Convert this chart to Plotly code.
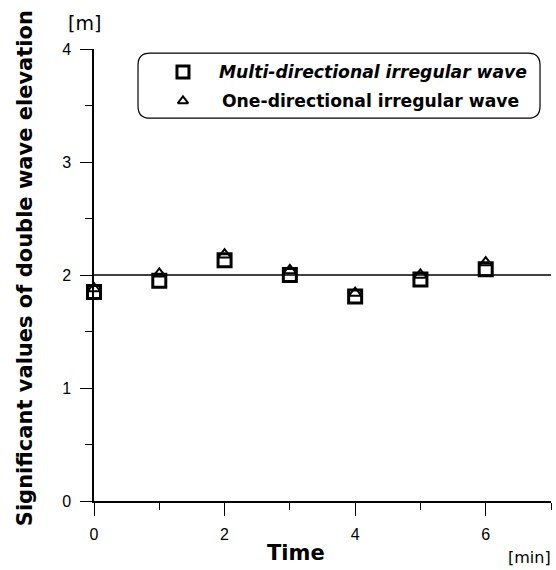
import plotly.graph_objects as go

time_min = [0, 1, 2, 3, 4, 5, 6]
multi_directional = [1.85, 1.95, 2.13, 2.00, 1.81, 1.96, 2.05]
one_directional = [1.88, 2.01, 2.18, 2.04, 1.84, 2.00, 2.11]
reference_level = 2.0
x_ticks = [0, 2, 4, 6]
y_ticks = [0, 1, 2, 3, 4]
legend_labels = ["Multi-directional irregular wave", "One-directional irregular wave"]

FONT = "Arial, Liberation Sans, Helvetica, sans-serif"
WIDE = "DejaVu Sans, Arial, sans-serif"

fig = go.Figure()

# reference line at 2 m
fig.add_trace(go.Scatter(x=[0, 7], y=[reference_level, reference_level], mode="lines",
                         line=dict(color="black", width=1.5), showlegend=False, hoverinfo="skip"))

fig.add_trace(go.Scatter(x=time_min, y=multi_directional, mode="markers", name=legend_labels[0],
                         marker=dict(symbol="square-open", size=13, color="black", line=dict(width=3, color="black")),
                         showlegend=False, cliponaxis=False))
fig.add_trace(go.Scatter(x=time_min, y=one_directional, mode="markers", name=legend_labels[1],
                         marker=dict(symbol="triangle-up-open", size=11, color="black", line=dict(width=2, color="black")),
                         showlegend=False, cliponaxis=False))

# legend markers on an overlay (paper-like) axis
fig.add_trace(go.Scatter(x=[0.1947], y=[0.949], mode="markers", xaxis="x2", yaxis="y2",
                         marker=dict(symbol="square-open", size=12, color="black", line=dict(width=3, color="black")),
                         showlegend=False, hoverinfo="skip", cliponaxis=False))
fig.add_trace(go.Scatter(x=[0.1947], y=[0.885], mode="markers", xaxis="x2", yaxis="y2",
                         marker=dict(symbol="triangle-up-open", size=9, color="black", line=dict(width=2, color="black")),
                         showlegend=False, hoverinfo="skip", cliponaxis=False))

# rounded legend box
x0, x1, y0, y1 = 0.0963, 0.976, 0.847, 0.991
rx, ry = 12 / 457, 12 / 452
path = (f"M {x0+rx},{y1} L {x1-rx},{y1} Q {x1},{y1} {x1},{y1-ry} L {x1},{y0+ry} "
        f"Q {x1},{y0} {x1-rx},{y0} L {x0+rx},{y0} Q {x0},{y0} {x0},{y0+ry} "
        f"L {x0},{y1-ry} Q {x0},{y1} {x0+rx},{y1} Z")
fig.add_shape(type="path", path=path, xref="paper", yref="paper",
              line=dict(color="black", width=1.2), fillcolor="rgba(0,0,0,0)")

annotations = [
    dict(text="<b><i>" + legend_labels[0] + "</i></b>", x=0.269, y=0.949, xanchor="left", yanchor="middle",
         font=dict(size=17.2, family=WIDE, color="black")),
    dict(text="<b>" + legend_labels[1] + "</b>", x=0.275, y=0.885, xanchor="left", yanchor="middle",
         font=dict(size=17.2, family=WIDE, color="black")),
    dict(text="<b>Significant values of double wave elevation</b>", x=-0.151, y=0.515, textangle=-90,
         xanchor="center", yanchor="middle", font=dict(size=21, family=WIDE, color="black")),
    dict(text="[m]", x=-0.0197, y=1.0575, xanchor="center", yanchor="middle",
         font=dict(size=19, family=WIDE, color="black")),
    dict(text="<b>Time</b>", x=0.442, y=-0.115, xanchor="center", yanchor="middle",
         font=dict(size=21, family=WIDE, color="black")),
    dict(text="[min]", x=0.954, y=-0.124, xanchor="center", yanchor="middle",
         font=dict(size=16, family=WIDE, color="black")),
]
for a in annotations:
    a.update(xref="paper", yref="paper", showarrow=False)

fig.update_layout(
    width=556, height=570,
    margin=dict(l=94, r=5, t=49, b=69),
    paper_bgcolor="white", plot_bgcolor="white",
    font=dict(family=FONT, color="black", size=16),
    showlegend=False,
    annotations=annotations,
    xaxis=dict(range=[0, 7], tickvals=x_ticks, ticks="outside", ticklen=13, tickwidth=1.2, tickcolor="black",
               minor=dict(dtick=1, tick0=0, ticks="outside", ticklen=7, tickwidth=1.2, tickcolor="black"),
               showline=True, linecolor="black", linewidth=1.5, showgrid=False, zeroline=False,
               tickfont=dict(size=16), ticklabelstandoff=5, fixedrange=True),
    yaxis=dict(range=[0, 4], tickvals=y_ticks, ticks="outside", ticklen=12, tickwidth=1.2, tickcolor="black",
               minor=dict(dtick=0.5, tick0=0, ticks="outside", ticklen=7, tickwidth=1.2, tickcolor="black"),
               showline=True, linecolor="black", linewidth=1.5, showgrid=False, zeroline=False,
               tickfont=dict(size=16), ticklabelstandoff=6, fixedrange=True),
    xaxis2=dict(range=[0, 1], overlaying="x", visible=False, fixedrange=True),
    yaxis2=dict(range=[0, 1], overlaying="y", visible=False, fixedrange=True),
)

fig.write_html("out.html", config={"displayModeBar": False},
               post_script="document.body.style.margin='0';document.body.style.overflow='hidden';")
